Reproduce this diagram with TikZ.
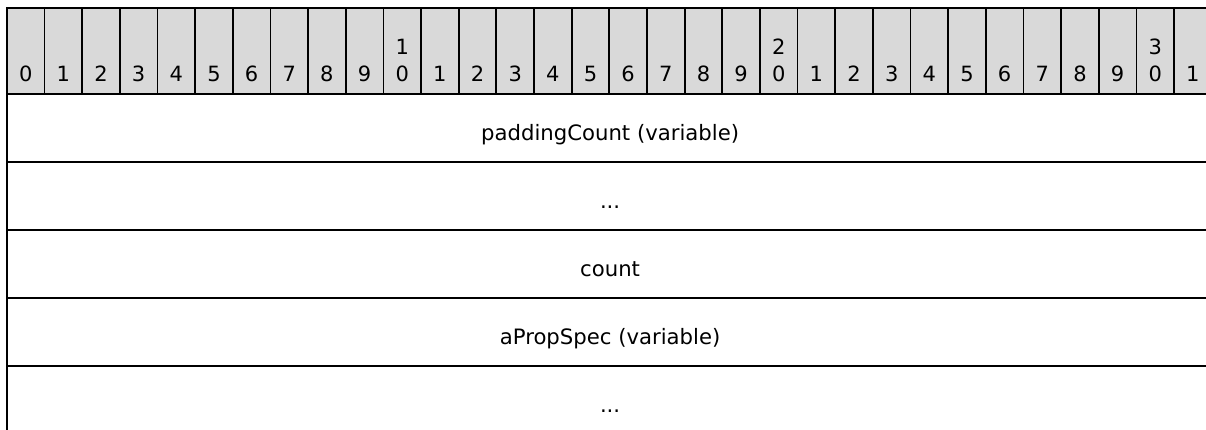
\documentclass[tikz,border=0pt]{standalone}
\usepackage{fontspec}
\setmainfont{DejaVu Sans}
\definecolor{hdrgray}{HTML}{D9D9D9}
\begin{document}
\begin{tikzpicture}[x=1pt, y=-1pt, line width=1.8pt,
  cell/.style = {draw, fill=hdrgray, minimum width=37.65pt, minimum height=86pt, inner sep=0pt, anchor=north west},
  num/.style = {anchor=south, inner sep=0pt, align=center, font=\fontsize{21}{26.7}\selectfont},
  field/.style = {draw, minimum width=1212pt, minimum height=68pt, inner sep=0pt, anchor=north west,
    text height=26pt, text depth=0pt, font=\fontsize{21.2}{25}\selectfont}]
\useasboundingbox (0,0) rectangle (1206,430);
\clip (0,0) rectangle (1206,430);

% bit ruler
\foreach \i in {0,...,31} {
  \pgfmathtruncatemacro\d{mod(\i,10)}
  \pgfmathtruncatemacro\t{\i/10}
  \node[cell] (h\i) at (6+37.65*\i,7) {};
  \ifnum\d=0 \ifnum\i>0
    \node[num] (n\i) at ([yshift=12pt]h\i.south) {\t\\0};
  \else
    \node[num] (n\i) at ([yshift=12pt]h\i.south) {\d};
  \fi \else
    \node[num] (n\i) at ([yshift=12pt]h\i.south) {\d};
  \fi
}

% fields
\node[field] (f1) at (6,93) {\hspace*{-5.6pt}paddingCount (variable)};
\node[field] (f2) at (6,161) {\hspace*{-5.6pt}...};
\node[field] (f3) at (6,229) {\hspace*{-5.6pt}count};
\node[field] (f4) at (6,297) {\hspace*{-5.6pt}aPropSpec (variable)};
\node[field] (f5) at (6,365) {\hspace*{-5.6pt}...};
\end{tikzpicture}
\end{document}
